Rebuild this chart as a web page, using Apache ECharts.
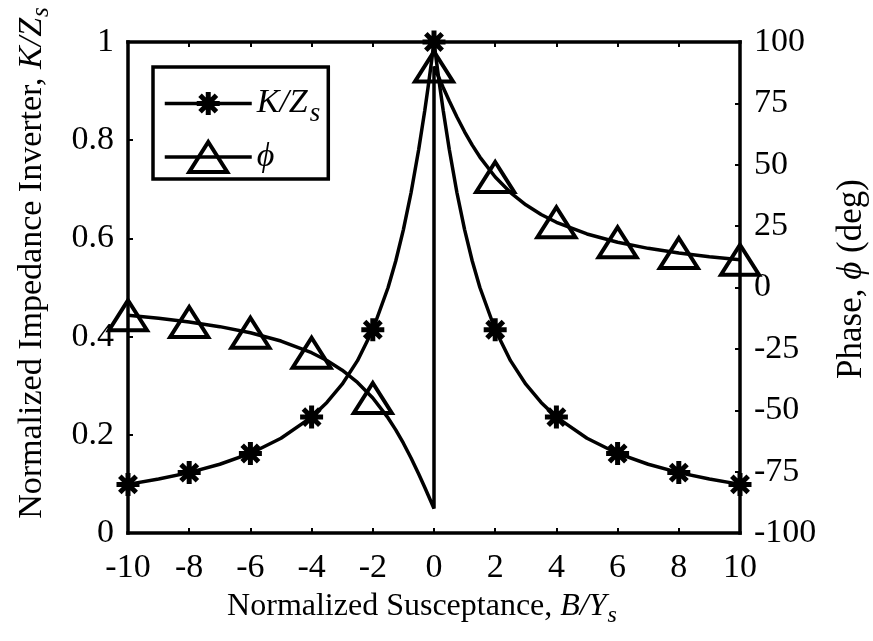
<!DOCTYPE html>
<html>
<head>
<meta charset="utf-8">
<script src="https://cdn.jsdelivr.net/npm/echarts@6/dist/echarts.min.js"></script>
<style>
  html, body { margin: 0; padding: 0; background: #fff; }
  #chart { width: 873px; height: 641px; }
</style>
</head>
<body>
<div id="chart"></div>
<script>
// Normalized susceptance B/Ys sampled along each curve
const susceptance = [-10, -9, -8, -7, -6, -5, -4, -3.5, -3, -2.5, -2, -1.5, -1.25, -1, -0.75, -0.5, -0.3, -0.2, -0.1, -0.05, 0,
  0.05, 0.1, 0.2, 0.3, 0.5, 0.75, 1, 1.25, 1.5, 2, 2.5, 3, 3.5, 4, 5, 6, 7, 8, 9, 10];
// Normalized impedance inverter K/Zs
const inverterK = [0.099, 0.110, 0.123, 0.140, 0.162, 0.193, 0.236, 0.266, 0.303, 0.351, 0.414, 0.500, 0.554, 0.618, 0.693, 0.781, 0.861, 0.905, 0.951, 0.975, 1.000,
  0.975, 0.951, 0.905, 0.861, 0.781, 0.693, 0.618, 0.554, 0.500, 0.414, 0.351, 0.303, 0.266, 0.236, 0.193, 0.162, 0.140, 0.123, 0.110, 0.099];
// Phase: jumps from -90 to +90 at B = 0
const phaseB = [-10, -9, -8, -7, -6, -5, -4, -3.5, -3, -2.5, -2, -1.5, -1.25, -1, -0.75, -0.5, -0.3, -0.2, -0.1, -0.05, 0,
  0, 0.05, 0.1, 0.2, 0.3, 0.5, 0.75, 1, 1.25, 1.5, 2, 2.5, 3, 3.5, 4, 5, 6, 7, 8, 9, 10];
const phaseDeg = [-11.31, -12.53, -14.04, -15.95, -18.43, -21.80, -26.57, -29.74, -33.69, -38.66, -45.00, -53.13, -57.99, -63.43, -69.44, -75.96, -81.47, -84.29, -87.14, -88.57, -90.00,
  90.00, 88.57, 87.14, 84.29, 81.47, 75.96, 69.44, 63.43, 57.99, 53.13, 45.00, 38.66, 33.69, 29.74, 26.57, 21.80, 18.43, 15.95, 14.04, 12.53, 11.31];
// B values that carry a marker (the +90 point at B = 0 carries the phase marker)
const markerB = [-10, -8, -6, -4, -2, 0, 2, 4, 6, 8, 10];
const xTicks = { min: -10, max: 10, step: 2 };
const leftTicks = { min: 0, max: 1, step: 0.2 };
const rightTicks = { min: -100, max: 100, step: 25 };

const FONT = 'Liberation Serif';
// asterisk (plus + cross) and open triangle, drawn inside a fixed 40x40 box
const ASTERISK = 'path://M-20,-20M20,20M0,-11.5L0,11.5M-11.5,0L11.5,0M-8.2,-8.2L8.2,8.2M-8.2,8.2L8.2,-8.2';
const TRIANGLE = 'path://M-20,-20M20,20M0,-15L19,15L-19,15Z';
const STAR_STYLE = { color: 'rgba(0,0,0,0)', borderColor: '#000', borderWidth: 5 };
const TRI_STYLE = { color: 'rgba(0,0,0,0)', borderColor: '#000', borderWidth: 4 };

function markedPoints(xs, ys, skipNegZero) {
  return xs.map((b, i) => {
    let mark = markerB.indexOf(b) >= 0;
    if (skipNegZero && b === 0 && ys[i] < 0) mark = false;
    return mark ? { value: [b, ys[i]] } : { value: [b, ys[i]], symbol: 'none' };
  });
}

const chart = echarts.init(document.getElementById('chart'), null, { renderer: 'canvas' });

const axisLineStyle = { color: '#000', width: 3.5, cap: 'square' };
const tickStyle = { color: '#000', width: 2 };
const labelStyle = { color: '#000', fontFamily: FONT, fontSize: 34 };
const LINE_W = 3.5;

chart.setOption({
  animation: false,
  backgroundColor: '#fff',
  grid: { left: 128, right: 133, top: 42, bottom: 108 },
  xAxis: [{
    type: 'value', position: 'bottom',
    min: xTicks.min, max: xTicks.max, interval: xTicks.step,
    axisLine: { show: true, onZero: false, lineStyle: axisLineStyle },
    axisTick: { show: true, inside: true, length: 5, lineStyle: tickStyle },
    axisLabel: Object.assign({ margin: 18 }, labelStyle),
    splitLine: { show: false }
  }, {
    type: 'value', position: 'top',
    min: xTicks.min, max: xTicks.max, interval: xTicks.step,
    axisLine: { show: true, onZero: false, lineStyle: axisLineStyle },
    axisTick: { show: true, inside: true, length: 5, lineStyle: tickStyle },
    axisLabel: { show: false },
    splitLine: { show: false }
  }],
  yAxis: [{
    type: 'value', position: 'left',
    min: leftTicks.min, max: leftTicks.max, interval: leftTicks.step,
    axisLine: { show: true, onZero: false, lineStyle: axisLineStyle },
    axisTick: { show: true, inside: true, length: 5, lineStyle: tickStyle },
    axisLabel: Object.assign({ margin: 14 }, labelStyle),
    splitLine: { show: false }
  }, {
    type: 'value', position: 'right',
    min: rightTicks.min, max: rightTicks.max, interval: rightTicks.step,
    axisLine: { show: true, onZero: false, lineStyle: axisLineStyle },
    axisTick: { show: true, inside: true, length: 5, lineStyle: tickStyle },
    axisLabel: Object.assign({ margin: 14 }, labelStyle),
    splitLine: { show: false }
  }],
  legend: {
    left: 153, top: 67,
    orient: 'vertical',
    itemWidth: 87, itemHeight: 50, itemGap: 8,
    padding: [14, 8, 0, 10],
    borderColor: '#000', borderWidth: 3.5,
    backgroundColor: '#fff',
    selectedMode: false,
    data: [
      { name: 'K/Zs', itemStyle: STAR_STYLE },
      { name: 'phi', itemStyle: TRI_STYLE }
    ],
    lineStyle: { color: '#000', width: LINE_W },
    formatter: function (name) {
      return name === 'K/Zs' ? '{i|K/Z}{sub|s}' : '{i|ϕ}';
    },
    textStyle: {
      color: '#000', fontFamily: FONT, fontSize: 34,
      rich: {
        i: { fontFamily: FONT, fontStyle: 'italic', fontSize: 34, color: '#000' },
        sub: { fontFamily: FONT, fontStyle: 'italic', fontSize: 27, color: '#000', padding: [20, 0, 0, 2] }
      }
    }
  },
  graphic: [{
    type: 'text', x: 32, y: 263, rotation: Math.PI / 2,
    style: {
      text: '{n|Normalized Impedance Inverter, }{i|K/Z}{sub|s}',
      align: 'center', verticalAlign: 'middle', fill: '#000',
      rich: {
        n: { fontFamily: FONT, fontSize: 34, fill: '#000' },
        i: { fontFamily: FONT, fontSize: 34, fontStyle: 'italic', fill: '#000' },
        sub: { fontFamily: FONT, fontSize: 25, fontStyle: 'italic', fill: '#000', padding: [18, 0, 0, 1] }
      }
    }
  }, {
    type: 'text', x: 852, y: 279, rotation: Math.PI / 2,
    style: {
      text: '{n|Phase, }{i|ϕ}{n| (deg)}',
      align: 'center', verticalAlign: 'middle', fill: '#000',
      rich: {
        n: { fontFamily: FONT, fontSize: 35, fill: '#000' },
        i: { fontFamily: FONT, fontSize: 35, fontStyle: 'italic', fill: '#000' }
      }
    }
  }, {
    type: 'text', x: 422, y: 607,
    style: {
      text: '{n|Normalized Susceptance, }{i|B/Y}{sub|s}',
      align: 'center', verticalAlign: 'middle', fill: '#000',
      rich: {
        n: { fontFamily: FONT, fontSize: 32, fill: '#000' },
        i: { fontFamily: FONT, fontSize: 32, fontStyle: 'italic', fill: '#000' },
        sub: { fontFamily: FONT, fontSize: 24, fontStyle: 'italic', fill: '#000', padding: [18, 0, 0, 1] }
      }
    }
  }],
  series: [{
    name: 'K/Zs', type: 'line', xAxisIndex: 0, yAxisIndex: 0,
    clip: false,
    symbol: ASTERISK, symbolSize: 40,
    lineStyle: { color: '#000', width: LINE_W },
    itemStyle: STAR_STYLE,
    emphasis: { disabled: true },
    data: markedPoints(susceptance, inverterK, false),
    z: 3
  }, {
    name: 'phi', type: 'line', xAxisIndex: 0, yAxisIndex: 1,
    clip: false,
    symbol: TRIANGLE, symbolSize: 40,
    lineStyle: { color: '#000', width: LINE_W },
    itemStyle: TRI_STYLE,
    emphasis: { disabled: true },
    data: markedPoints(phaseB, phaseDeg, true),
    z: 2
  }]
});
</script>
</body>
</html>
